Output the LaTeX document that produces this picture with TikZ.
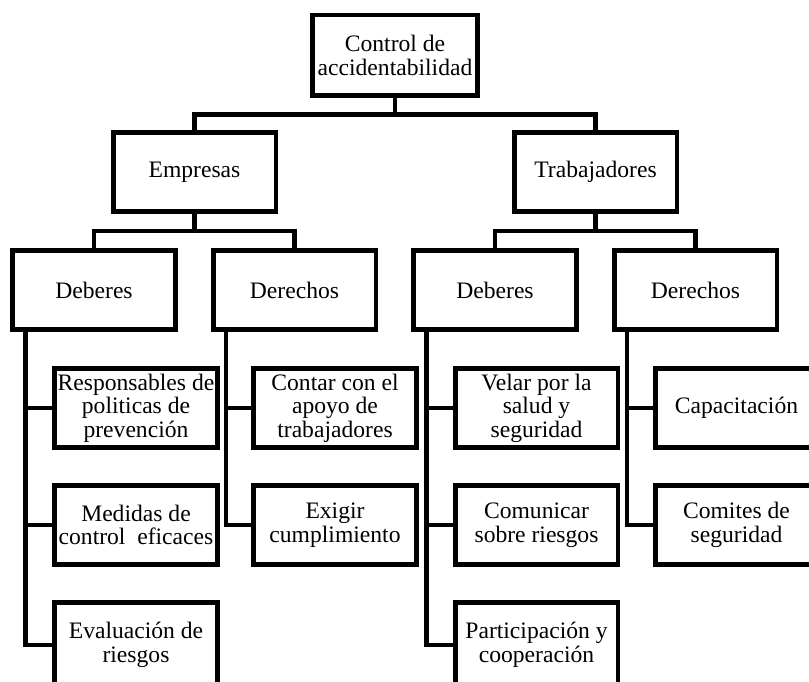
\documentclass[tikz,border=0pt]{standalone}
\usepackage{fontspec}
\setmainfont{Liberation Serif}
\usetikzlibrary{calc,positioning}

\begin{document}
\begin{tikzpicture}[x=0.75pt, y=-0.75pt, line width=3.4pt,
  box/.style={draw, rectangle, align=center, inner sep=1pt, minimum width=121.9pt, minimum height=58.9pt, font=\fontsize{17.7}{17.6}\selectfont},
  rootbox/.style={box, minimum width=124.1pt, minimum height=60.4pt},
  lastbox/.style={box, minimum height=64.1pt}]

    \useasboundingbox (0,0) rectangle (809,681);
    \clip (0,0) rectangle (809,681);

    \node[rootbox] (ctrl)    at (395,55.5)  {Control de\\accidentabilidad};

    \node[box]     (emp)     at (194.5,172) {Empresas};
    \node[box]     (trab)    at (595.5,172) {Trabajadores};

    \node[box]     (empdeb)  at (94,290)    {Deberes};
    \node[box]     (empder)  at (294.5,290) {Derechos};
    \node[box]     (trabdeb) at (495,290)   {Deberes};
    \node[box]     (trabder) at (695.5,290) {Derechos};

    \node[box]     (resp)    at (136,408)   {Responsables de\\politicas de\\prevención};
    \node[box]     (med)     at (136,525)   {Medidas de\\control\ \ eficaces};
    \node[lastbox] (evalr)   at (136,645)   {Evaluación de\\riesgos};

    \node[box]     (apoyo)   at (335,408)   {Contar con el\\apoyo de\\trabajadores};
    \node[box]     (exig)    at (335,525)   {Exigir\\cumplimiento};

    \node[box]     (velar)   at (536.5,408) {Velar por la\\salud y\\seguridad};
    \node[box]     (comun)   at (536.5,525) {Comunicar\\sobre riesgos};
    \node[lastbox] (part)    at (536.5,645) {Participación y\\cooperación};

    \node[box]     (capac)   at (736.5,408) {Capacitación};
    \node[box]     (comit)   at (736.5,525) {Comites de\\seguridad};

    % junctions between levels
    \coordinate (j0) at ($(ctrl.south)!0.5!(ctrl.south |- emp.north)$);
    \coordinate (j1) at ($(emp.south)!0.5!(emp.south |- empdeb.north)$);
    \coordinate (j2) at ($(trab.south)!0.5!(trab.south |- trabdeb.north)$);

    \draw (ctrl.south) -- (j0);
    \draw (emp.north) |- (j0) -| (trab.north);

    \draw (emp.south) -- (j1);
    \draw (empdeb.north) |- (j1) -| (empder.north);

    \draw (trab.south) -- (j2);
    \draw (trabdeb.north) |- (j2) -| (trabder.north);

    % trunks down to the leaves
    \coordinate (t1) at ($(empdeb.south west)+(15,0)$);
    \coordinate (t2) at ($(empder.south west)+(15,0)$);
    \coordinate (t3) at ($(trabdeb.south west)+(15,0)$);
    \coordinate (t4) at ($(trabder.south west)+(15,0)$);

    \draw (t1) |- (resp.west);
    \draw (t1) |- (med.west);
    \draw (t1) |- (evalr.west);

    \draw (t2) |- (apoyo.west);
    \draw (t2) |- (exig.west);

    \draw (t3) |- (velar.west);
    \draw (t3) |- (comun.west);
    \draw (t3) |- (part.west);

    \draw (t4) |- (capac.west);
    \draw (t4) |- (comit.west);

\end{tikzpicture}
\end{document}
